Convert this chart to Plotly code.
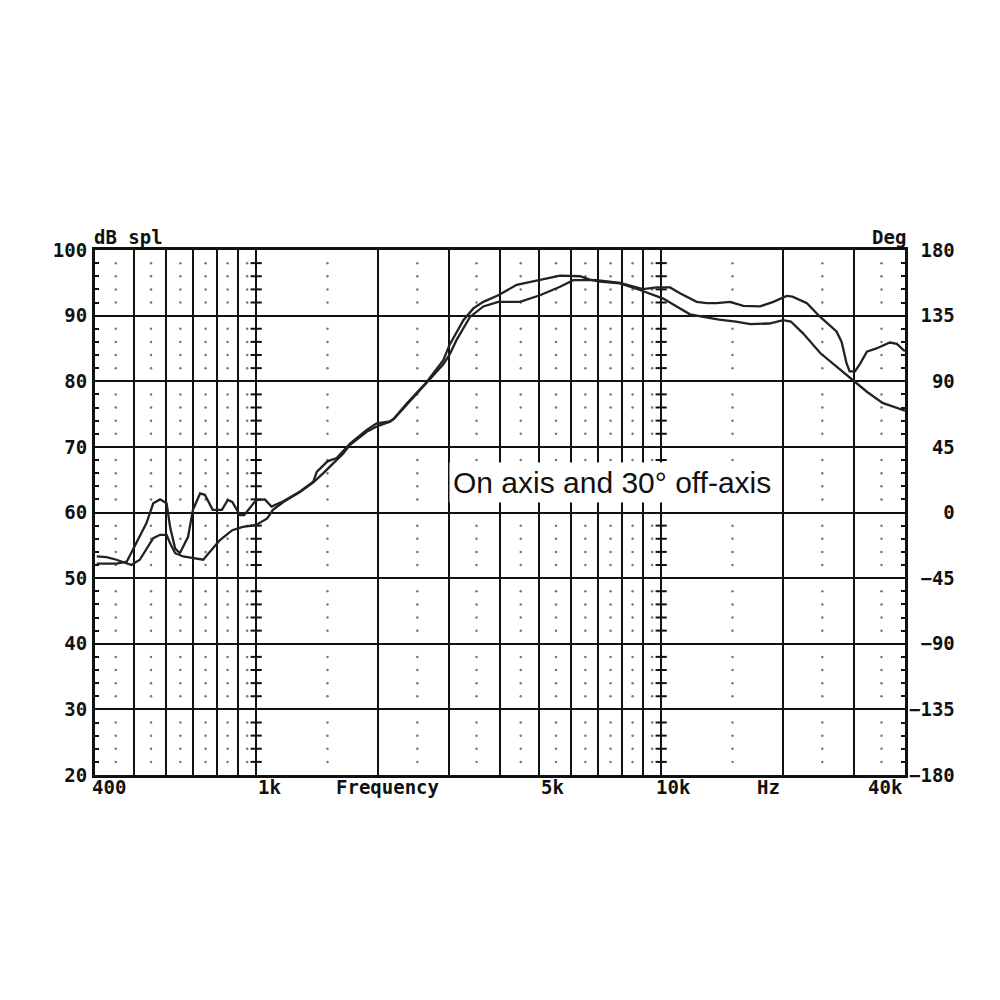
import numpy as np
import plotly.graph_objects as go

# on axis response (Hz, dB spl)
freq_on = [404, 452, 479, 505, 536, 557, 579, 601, 613, 631, 648, 679, 698, 727, 747, 781,
           823, 851, 873, 912, 934, 1000, 1051, 1091, 1167, 1283, 1384, 1411, 1500, 1581,
           1705, 1875, 1984, 2141, 2191, 2354, 2637, 2898, 3000, 3248, 3437, 3639, 3961,
           4398, 4929, 5627, 6303, 6669, 7060, 7912, 8865, 9561, 10120, 10921, 11780,
           12707, 13900, 15300, 16600, 18500, 20000, 20900, 22400, 24700, 27100, 29700,
           32200, 35200, 39600, 40000]
db_on = [52.2, 52.2, 52.5, 55.3, 58.4, 61.4, 62.0, 61.4, 57.8, 54.5, 53.8, 56.3, 60.4, 62.9,
         62.7, 60.4, 60.4, 61.9, 61.6, 59.6, 59.6, 61.9, 62.0, 60.9, 61.7, 63.2, 64.7, 66.2,
         67.8, 68.3, 70.5, 72.6, 73.6, 73.9, 74.35, 76.6, 79.9, 83.2, 85.5, 89.3, 91.1, 92.1,
         93.1, 94.7, 95.3, 96.1, 96.0, 95.5, 95.2, 94.9, 93.9, 93.1, 92.6, 91.4, 90.2, 89.8,
         89.4, 89.1, 88.7, 88.8, 89.3, 89.1, 87.3, 84.3, 82.2, 80.2, 78.4, 76.7, 75.6, 75.5]

# 30 degree off-axis response
freq_off = [404, 427, 452, 492, 516, 541, 557, 579, 601, 613, 631, 660, 698, 740, 781, 814,
            873, 927, 1000, 1065, 1100, 1167, 1283, 1384, 1465, 1641, 1705, 1875, 1984,
            2141, 2191, 2354, 2637, 2898, 3000, 3125, 3373, 3639, 3961, 4481, 5021, 5627,
            6068, 6931, 7912, 9016, 9767, 10517, 11130, 12238, 12958, 13713, 14792, 15951,
            17539, 18920, 20420, 21100, 22900, 24700, 27100, 27900, 28700, 29200, 30100,
            31000, 32200, 34000, 36700, 38200, 39600, 40000]
db_off = [53.3, 53.2, 52.8, 52.0, 52.8, 54.8, 56.1, 56.6, 56.6, 55.3, 53.8, 53.3, 53.0, 52.8,
          54.5, 55.8, 57.3, 57.8, 58.1, 59.1, 60.4, 61.6, 63.1, 64.6, 66.0, 69.0, 70.3, 72.3,
          73.1, 73.85, 74.3, 76.4, 79.7, 82.6, 84.0, 86.3, 89.8, 91.4, 92.1, 92.1, 93.1, 94.4,
          95.4, 95.4, 95.0, 94.05, 94.3, 94.3, 93.4, 92.1, 91.9, 91.9, 92.1, 91.5, 91.4, 92.1,
          93.0, 92.9, 91.9, 89.8, 87.6, 86.0, 82.7, 81.5, 81.5, 82.7, 84.5, 85.0, 85.9, 85.7,
          84.8, 84.6]

grid_freqs = [500, 600, 700, 800, 900, 1000, 2000, 3000, 4000, 5000, 6000, 7000, 8000, 9000,
              10000, 20000, 30000]
dot_freqs = [450, 550, 650, 750, 850, 950, 1500, 2500, 3500, 4500, 5500, 6500, 7500, 8500,
             9500, 15000, 25000, 35000]
dot_levels = [v for v in range(22, 100, 2) if v % 10 != 0]

x_labels = ["400", "1k", "5k", "10k", "40k"]
x_label_freqs = [400, 1000, 5000, 10000, 40000]

deg_vals = [-180, -135, -90, -45, 0, 45, 90, 135, 180]

mono = "DejaVu Sans Mono"
ink = "#111111"
fsize = 19

fig = go.Figure()

# dotted minor grid
dx, dy = np.meshgrid(dot_freqs, dot_levels)
fig.add_trace(go.Scatter(x=dx.ravel(), y=dy.ravel(), mode="markers",
                         marker=dict(size=2.5, color="#777777"),
                         hoverinfo="skip", showlegend=False))

# short dashes on the 1k and 10k lines
kx, ky = np.meshgrid([1000, 10000], dot_levels)
fig.add_trace(go.Scatter(x=kx.ravel(), y=ky.ravel(), mode="markers",
                         marker=dict(symbol="line-ew", size=8, line=dict(width=2, color=ink)),
                         hoverinfo="skip", showlegend=False))

fig.add_trace(go.Scatter(x=freq_off, y=db_off, mode="lines", name="30° off-axis",
                         line=dict(color="#222222", width=2.3), showlegend=False))
fig.add_trace(go.Scatter(x=freq_on, y=db_on, mode="lines", name="On axis",
                         line=dict(color="#222222", width=2.3), showlegend=False))

# empty trace so the phase axis gets drawn
fig.add_trace(go.Scatter(x=[], y=[], yaxis="y2", showlegend=False))

# page body has an 8px margin, so shift the plot area up/left by 8
fig.update_layout(
    width=1000, height=1000,
    margin=dict(l=87, r=103, t=242, b=233),
    paper_bgcolor="white", plot_bgcolor="white",
    xaxis=dict(type="log", range=[np.log10(400), np.log10(40000)],
               tickvals=grid_freqs, showticklabels=False, ticks="",
               showgrid=True, gridcolor=ink, gridwidth=1.6,
               showline=True, linecolor=ink, linewidth=3, mirror=True, zeroline=False),
    yaxis=dict(range=[20, 100], dtick=10, tick0=20, showgrid=True, gridcolor=ink, gridwidth=1.6,
               showline=True, linecolor=ink, linewidth=3, mirror=True, zeroline=False,
               ticks="inside", ticklen=4, tickwidth=2, tickcolor=ink,
               minor=dict(dtick=2, ticks="inside", ticklen=4, tickwidth=2, tickcolor=ink),
               ticklabelstandoff=1,
               tickfont=dict(family=mono, size=fsize, color=ink, weight="bold")),
    yaxis2=dict(overlaying="y", side="right", range=[-180, 180],
                tickvals=deg_vals,
                ticktext=[f"{v:>4d}".replace(" ", "\u00a0").replace("-", "\u2212") for v in deg_vals],
                showgrid=False, zeroline=False,
                ticks="inside", ticklen=4, tickwidth=2, tickcolor=ink,
                minor=dict(dtick=9, ticks="inside", ticklen=4, tickwidth=2, tickcolor=ink),
                ticklabelstandoff=3,
                tickfont=dict(family=mono, size=fsize, color=ink, weight="bold")),
)

for lab, f in zip(x_labels, x_label_freqs):
    anchor = "right" if f == 40000 else "left"
    shift = -7 if f == 10000 else (-5 if f == 400 else 0)
    fig.add_annotation(x=np.log10(f), y=-0.023, xref="x", yref="paper", text=lab,
                       showarrow=False, xanchor=anchor, yanchor="middle", xshift=shift,
                       font=dict(family=mono, size=fsize, color=ink, weight="bold"))

axis_words = [("Frequency", 0.3617, -0.023, "center"), ("Hz", 0.831, -0.023, "center"),
              ("dB spl", -0.004, 1.025, "left"), ("Deg", 1.004, 1.025, "right")]
for txt, px, py, anchor in axis_words:
    fig.add_annotation(x=px, y=py, xref="paper", yref="paper", text=txt, showarrow=False,
                       xanchor=anchor, yanchor="middle",
                       font=dict(family=mono, size=fsize, color=ink, weight="bold"))

fig.add_annotation(x=0.638, y=0.558, xref="paper", yref="paper",
                   text="On axis and 30° off-axis", showarrow=False,
                   bgcolor="white", borderpad=3,
                   font=dict(family="Liberation Sans", size=30, color="#111111"))

fig.write_html("out.html")
